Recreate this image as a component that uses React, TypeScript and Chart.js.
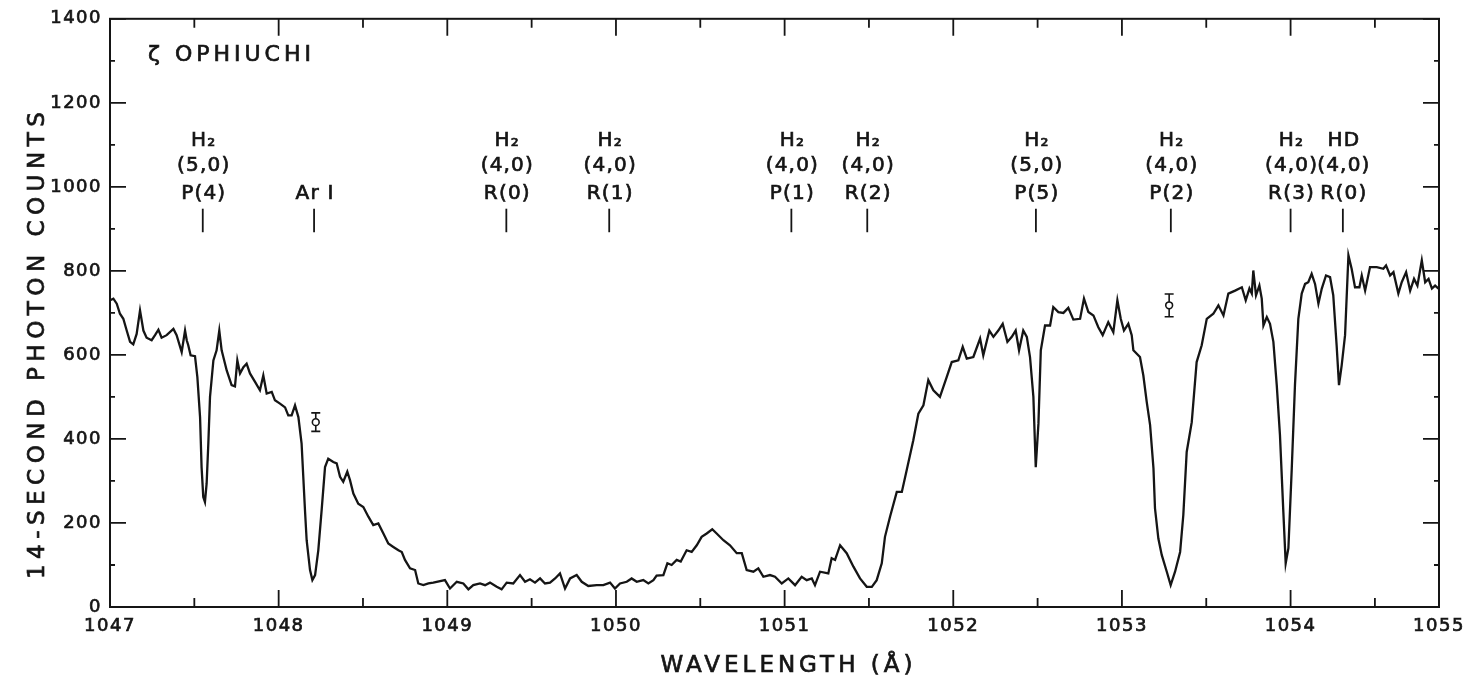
import React, { useEffect, useRef } from 'react';
import { Chart, registerables } from 'chart.js';

Chart.register(...registerables);

// ---- Spectrum (wavelength in Å, 14-second photon counts) ----
const WAVELENGTH = [
  1047.000, 1047.020, 1047.040, 1047.059, 1047.079, 1047.099, 1047.119, 1047.138, 1047.158, 1047.178,
  1047.198, 1047.217, 1047.247, 1047.267, 1047.287, 1047.306, 1047.336, 1047.376, 1047.395, 1047.425,
  1047.445, 1047.455, 1047.464, 1047.478, 1047.504, 1047.518, 1047.534, 1047.543, 1047.553, 1047.563,
  1047.573, 1047.583, 1047.593, 1047.613, 1047.632, 1047.648, 1047.662, 1047.692, 1047.721, 1047.741,
  1047.755, 1047.771, 1047.791, 1047.810, 1047.830, 1047.860, 1047.889, 1047.909, 1047.929, 1047.959,
  1047.978, 1048.008, 1048.038, 1048.057, 1048.077, 1048.097, 1048.117, 1048.136, 1048.146, 1048.156,
  1048.166, 1048.186, 1048.200, 1048.216, 1048.235, 1048.255, 1048.275, 1048.294, 1048.324, 1048.344,
  1048.364, 1048.383, 1048.407, 1048.423, 1048.443, 1048.472, 1048.502, 1048.532, 1048.561, 1048.591,
  1048.621, 1048.650, 1048.680, 1048.710, 1048.730, 1048.749, 1048.779, 1048.809, 1048.828, 1048.858,
  1048.888, 1048.917, 1048.937, 1048.986, 1049.016, 1049.056, 1049.095, 1049.125, 1049.154, 1049.194,
  1049.224, 1049.253, 1049.293, 1049.322, 1049.352, 1049.391, 1049.431, 1049.461, 1049.490, 1049.520,
  1049.550, 1049.579, 1049.609, 1049.639, 1049.668, 1049.698, 1049.728, 1049.767, 1049.797, 1049.836,
  1049.886, 1049.925, 1049.965, 1049.994, 1050.024, 1050.064, 1050.093, 1050.123, 1050.162, 1050.192,
  1050.222, 1050.241, 1050.281, 1050.305, 1050.330, 1050.360, 1050.384, 1050.419, 1050.449, 1050.479,
  1050.508, 1050.538, 1050.571, 1050.597, 1050.637, 1050.676, 1050.716, 1050.746, 1050.775, 1050.815,
  1050.844, 1050.874, 1050.913, 1050.943, 1050.983, 1051.022, 1051.062, 1051.101, 1051.131, 1051.161,
  1051.180, 1051.210, 1051.259, 1051.279, 1051.299, 1051.329, 1051.368, 1051.408, 1051.447, 1051.487,
  1051.517, 1051.546, 1051.576, 1051.595, 1051.625, 1051.665, 1051.695, 1051.724, 1051.763, 1051.793,
  1051.823, 1051.852, 1051.882, 1051.921, 1051.961, 1051.991, 1052.030, 1052.056, 1052.080, 1052.119,
  1052.159, 1052.178, 1052.214, 1052.238, 1052.267, 1052.293, 1052.321, 1052.347, 1052.370, 1052.390,
  1052.415, 1052.436, 1052.455, 1052.475, 1052.489, 1052.505, 1052.519, 1052.544, 1052.574, 1052.593,
  1052.623, 1052.653, 1052.682, 1052.712, 1052.752, 1052.775, 1052.801, 1052.831, 1052.860, 1052.886,
  1052.919, 1052.949, 1052.973, 1052.993, 1053.012, 1053.038, 1053.058, 1053.068, 1053.107, 1053.127,
  1053.147, 1053.167, 1053.187, 1053.196, 1053.216, 1053.236, 1053.266, 1053.289, 1053.315, 1053.345,
  1053.364, 1053.384, 1053.414, 1053.443, 1053.473, 1053.503, 1053.542, 1053.572, 1053.602, 1053.631,
  1053.671, 1053.711, 1053.734, 1053.756, 1053.770, 1053.779, 1053.795, 1053.815, 1053.829, 1053.839,
  1053.859, 1053.878, 1053.898, 1053.918, 1053.937, 1053.957, 1053.971, 1053.987, 1054.007, 1054.026,
  1054.046, 1054.066, 1054.086, 1054.105, 1054.125, 1054.145, 1054.165, 1054.185, 1054.210, 1054.234,
  1054.253, 1054.273, 1054.287, 1054.303, 1054.323, 1054.343, 1054.362, 1054.382, 1054.408, 1054.422,
  1054.442, 1054.471, 1054.511, 1054.550, 1054.566, 1054.590, 1054.610, 1054.639, 1054.659, 1054.685,
  1054.709, 1054.732, 1054.752, 1054.778, 1054.798, 1054.818, 1054.838, 1054.857, 1054.877,
];

const COUNTS = [
  730, 734, 722, 698, 686, 658, 631, 625, 650, 706,
  658, 641, 635, 647, 660, 641, 647, 662, 647, 607,
  658, 635, 623, 599, 597, 547, 452, 333, 262, 250,
  294, 389, 500, 587, 611, 658, 611, 563, 528, 525,
  587, 556, 571, 579, 556, 536, 516, 551, 508, 512,
  492, 484, 475, 456, 456, 480, 452, 389, 310, 231,
  159, 88, 64, 76, 135, 231, 333, 353, 345, 342,
  310, 298, 322, 302, 270, 246, 238, 215, 195, 199,
  175, 151, 143, 135, 131, 112, 92, 88, 56, 52,
  56, 58, 60, 64, 44, 60, 56, 42, 52, 56,
  52, 58, 48, 42, 58, 56, 76, 60, 66, 58,
  68, 56, 58, 68, 80, 44, 68, 76, 60, 50,
  52, 52, 58, 44, 56, 60, 68, 60, 64, 56,
  64, 75, 76, 104, 100, 112, 108, 135, 131, 147,
  167, 175, 185, 175, 159, 147, 128, 128, 88, 84,
  92, 72, 76, 72, 56, 68, 52, 72, 64, 68,
  52, 84, 80, 116, 112, 147, 128, 96, 68, 48,
  48, 64, 104, 167, 215, 274, 274, 326, 397, 460,
  480, 540, 516, 500, 547, 583, 587, 619, 591, 595,
  639, 599, 658, 643, 658, 674, 631, 643, 658, 611,
  658, 643, 595, 500, 333, 437, 611, 670, 670, 714,
  702, 700, 712, 684, 686, 734, 702, 694, 666, 647,
  678, 654, 730, 686, 658, 674, 647, 611, 595, 551,
  488, 433, 330, 235, 163, 124, 84, 52, 84, 131,
  219, 369, 440, 583, 623, 686, 698, 718, 694, 746,
  753, 761, 730, 758, 746, 801, 742, 765, 734, 670,
  690, 674, 631, 528, 409, 227, 104, 140, 330, 528,
  686, 746, 769, 773, 793, 769, 722, 758, 789, 785,
  742, 623, 528, 575, 647, 837, 805, 761, 761, 789,
  753, 809, 809, 805, 813, 789, 797, 746, 773, 797,
  753, 781, 765, 825, 773, 781, 758, 765, 758,
];

// ---- Representative error bars ----
const ERR_WAVELENGTH = [1048.22, 1053.28];
const ERR_COUNTS = [440, 718];
const ERR_HALF = [22, 27];

// ---- Identified absorption lines ----
const LINE_WAVELENGTH = [1047.55, 1048.21, 1049.35, 1049.96, 1051.04, 1051.49, 1052.49, 1053.29, 1054.0, 1054.31];
const LINE_SPECIES = ['H₂', '', 'H₂', 'H₂', 'H₂', 'H₂', 'H₂', 'H₂', 'H₂', 'HD'];
const LINE_BAND = ['(5,0)', '', '(4,0)', '(4,0)', '(4,0)', '(4,0)', '(5,0)', '(4,0)', '(4,0)', '(4,0)'];
const LINE_BRANCH = ['P(4)', 'Ar I', 'R(0)', 'R(1)', 'P(1)', 'R(2)', 'P(5)', 'P(2)', 'R(3)', 'R(0)'];

// ---- Axes ----
const X_MIN = 1047;
const X_END = 1054.88; // the drawn frame ends here in the original figure
const X_TICK_VALUES = [1047, 1048, 1049, 1050, 1051, 1052, 1053, 1054, X_END];
const X_TICK_LABELS = ['1047', '1048', '1049', '1050', '1051', '1052', '1053', '1054', '1055'];
const Y_MIN = 0;
const Y_MAX = 1400;
const Y_STEP = 200;

const STAR_LABEL = 'ζ OPHIUCHI';
const X_TITLE = 'WAVELENGTH (Å)';
const Y_TITLE = '14-SECOND PHOTON COUNTS';

const INK = '#151515';
const FONT = '"DejaVu Sans", "Liberation Sans", sans-serif';

function inkText(ctx: any, text: string, x: number, y: number) {
  ctx.fillText(text, x, y);
  ctx.strokeText(text, x, y);
}

const decorPlugin = {
  id: 'decor',
  beforeDraw(chart: any) {
    chart.ctx.letterSpacing = '1.5px';
  },
  beforeDatasetsDraw(chart: any) {
    const ctx = chart.ctx;
    const xs = chart.scales.x;
    const ys = chart.scales.y;
    ctx.save();
    ctx.strokeStyle = INK;
    ctx.lineWidth = 1.6;
    ERR_WAVELENGTH.forEach((w, i) => {
      const px = xs.getPixelForValue(w);
      const top = ys.getPixelForValue(ERR_COUNTS[i] + ERR_HALF[i]);
      const bot = ys.getPixelForValue(ERR_COUNTS[i] - ERR_HALF[i]);
      ctx.beginPath();
      ctx.moveTo(px, top);
      ctx.lineTo(px, bot);
      ctx.moveTo(px - 4.5, top);
      ctx.lineTo(px + 4.5, top);
      ctx.moveTo(px - 4.5, bot);
      ctx.lineTo(px + 4.5, bot);
      ctx.stroke();
    });
    ctx.restore();
  },
  afterDraw(chart: any) {
    const ctx = chart.ctx;
    const xs = chart.scales.x;
    const ys = chart.scales.y;
    const { left, right, top, bottom } = chart.chartArea;
    ctx.save();
    ctx.strokeStyle = INK;
    ctx.fillStyle = INK;
    ctx.lineWidth = 2;
    ctx.strokeRect(left, top, right - left, bottom - top);

    // inward tick marks on all four sides
    ctx.lineWidth = 1.8;
    ctx.beginPath();
    for (let v = X_MIN; v <= X_END + 1e-9; v += 0.5) {
      const px = xs.getPixelForValue(v);
      const major = Math.abs(v - Math.round(v)) < 1e-6;
      const len = major ? 17 : 9;
      ctx.moveTo(px, bottom);
      ctx.lineTo(px, bottom - len);
      ctx.moveTo(px, top);
      ctx.lineTo(px, top + len);
    }
    for (let v = Y_MIN; v <= Y_MAX; v += Y_STEP / 2) {
      const py = ys.getPixelForValue(v);
      const major = v % Y_STEP === 0;
      const len = major ? 16 : 5;
      ctx.moveTo(left, py);
      ctx.lineTo(left + len, py);
      ctx.moveTo(right, py);
      ctx.lineTo(right - len, py);
    }
    ctx.stroke();

    // line identifications
    ctx.textAlign = 'center';
    ctx.textBaseline = 'middle';
    ctx.font = `20px ${FONT}`;
    ctx.letterSpacing = '1.2px';
    const rowSpecies = ys.getPixelForValue(1110);
    const rowBand = ys.getPixelForValue(1050);
    const rowBranch = ys.getPixelForValue(984);
    const tickTop = ys.getPixelForValue(948);
    const tickBot = ys.getPixelForValue(892);
    LINE_WAVELENGTH.forEach((w, i) => {
      const px = xs.getPixelForValue(w);
      const tx = px + 1;
      ctx.lineWidth = 0.7;
      if (LINE_SPECIES[i]) inkText(ctx, LINE_SPECIES[i], tx, rowSpecies);
      if (LINE_BAND[i]) inkText(ctx, LINE_BAND[i], tx, rowBand);
      inkText(ctx, LINE_BRANCH[i], tx, rowBranch);
      ctx.lineWidth = 1.8;
      ctx.beginPath();
      ctx.moveTo(px, tickTop);
      ctx.lineTo(px, tickBot);
      ctx.stroke();
    });

    // star name
    ctx.lineWidth = 0.7;
    ctx.textAlign = 'left';
    ctx.font = `22px ${FONT}`;
    ctx.letterSpacing = '4px';
    inkText(ctx, STAR_LABEL, xs.getPixelForValue(1047.225), ys.getPixelForValue(1312));

    // axis titles
    ctx.textAlign = 'center';
    ctx.font = `23px ${FONT}`;
    ctx.letterSpacing = '4px';
    inkText(ctx, X_TITLE, (left + right) / 2 + 14, 666);
    ctx.save();
    ctx.translate(38, (top + bottom) / 2 + 30);
    ctx.rotate(-Math.PI / 2);
    ctx.letterSpacing = '5.5px';
    inkText(ctx, Y_TITLE, 0, 0);
    ctx.restore();
    ctx.restore();
  },
};

export default function App() {
  const ref = useRef<HTMLCanvasElement>(null);

  useEffect(() => {
    const canvas = ref.current;
    if (!canvas) return;
    const chart = new Chart(canvas, {
      type: 'scatter',
      data: {
        datasets: [
          {
            data: WAVELENGTH.map((x, i) => ({ x, y: COUNTS[i] })),
            showLine: true,
            borderColor: INK,
            borderWidth: 2.3,
            pointRadius: 0,
            pointHoverRadius: 0,
            tension: 0,
            order: 2,
          },
          {
            data: ERR_WAVELENGTH.map((x, i) => ({ x, y: ERR_COUNTS[i] })),
            showLine: false,
            pointRadius: 3.4,
            pointBackgroundColor: '#ffffff',
            pointBorderColor: INK,
            pointBorderWidth: 1.6,
            order: 1,
          },
        ],
      },
      options: {
        animation: false,
        responsive: true,
        maintainAspectRatio: false,
        devicePixelRatio: 1,
        events: [],
        layout: { padding: { top: 18, right: 32, left: 0, bottom: 0 } },
        plugins: {
          legend: { display: false },
          tooltip: { enabled: false },
          title: { display: false },
        },
        scales: {
          x: {
            type: 'linear',
            position: 'bottom',
            min: X_MIN,
            max: X_END,
            afterBuildTicks: (scale: any) => {
              scale.ticks = X_TICK_VALUES.map((value) => ({ value }));
            },
            afterFit: (scale: any) => {
              scale.height = 71;
            },
            ticks: {
              autoSkip: false,
              maxRotation: 0,
              minRotation: 0,
              padding: 9,
              color: INK,
              textStrokeColor: INK,
              textStrokeWidth: 0.7,
              font: { family: FONT, size: 18 },
              callback: (_v: any, i: number) => X_TICK_LABELS[i],
            },
            grid: { display: false, drawTicks: false },
            border: { display: false },
          },
          y: {
            type: 'linear',
            position: 'left',
            min: Y_MIN,
            max: Y_MAX,
            afterFit: (scale: any) => {
              scale.width = 110;
            },
            ticks: {
              stepSize: Y_STEP,
              padding: 8,
              color: INK,
              textStrokeColor: INK,
              textStrokeWidth: 0.7,
              font: { family: FONT, size: 18 },
              callback: (v: any) => String(v),
            },
            grid: { display: false, drawTicks: false },
            border: { display: false },
          },
        },
      },
      plugins: [decorPlugin],
    });
    return () => chart.destroy();
  }, []);

  return (
    <div style={{ position: 'fixed', left: 0, top: 0, width: 1471, height: 678, background: '#ffffff' }}>
      <canvas ref={ref} />
    </div>
  );
}
